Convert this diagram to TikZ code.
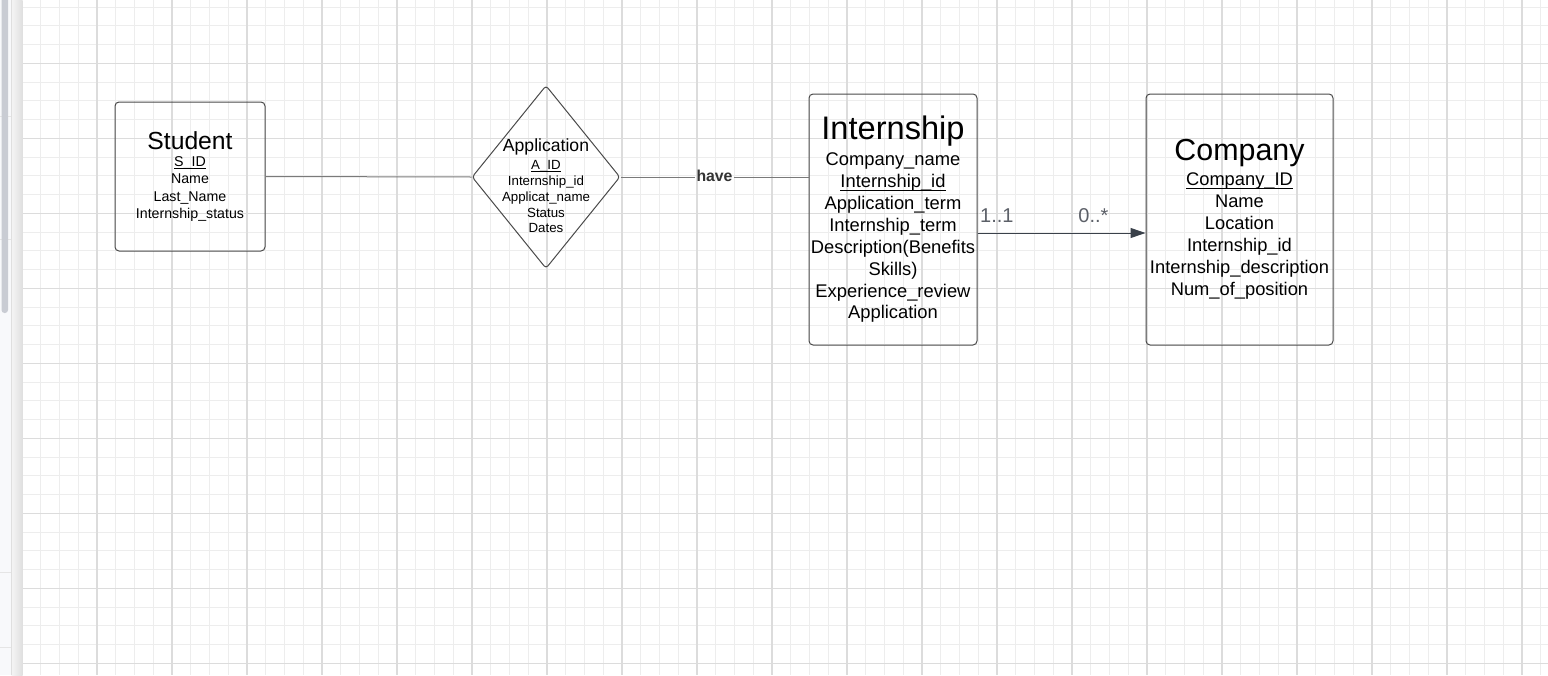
\documentclass[tikz,border=0pt]{standalone}
\usepackage{fontspec}
\setmainfont{Liberation Sans}
\usetikzlibrary{shapes.geometric,arrows.meta}

\definecolor{gridmajor}{HTML}{DCDCDC}
\definecolor{gridminor}{HTML}{EDEDED}
\definecolor{boxline}{HTML}{4A4A4A}
\definecolor{linkline}{HTML}{7A7A7A}
\definecolor{arrowline}{HTML}{3A414A}
\definecolor{multtext}{HTML}{5C6068}
\definecolor{sidebar}{HTML}{F8F9FB}
\definecolor{thumb}{HTML}{C9CCD3}

% underlined key attribute
\newcommand{\pkey}[1]{\sbox0{#1}\rlap{\rule[-0.19em]{\wd0}{0.065em}}\usebox0}

\begin{document}
\begin{tikzpicture}[x=1pt, y=-1pt,
    entbox/.style={draw=boxline, line width=1pt, rounded corners=4pt, align=center, inner sep=0pt, text=black},
    relbox/.style={diamond, draw=boxline, line width=1pt, rounded corners=3pt, inner sep=0pt},
    link/.style={linkline, line width=1pt}]

    \def\W{1548};
    \def\H{675};
    \useasboundingbox (0,0) rectangle (\W,\H);
    \fill[white] (0,0) rectangle (\W,\H);

% grid
    \foreach \i in {1,...,81}
        \draw[gridminor, line width=0.9pt] (21.7 + 18.75*\i, 0) -- (21.7 + 18.75*\i, \H);
    \foreach \j in {0,...,35}
        \draw[gridminor, line width=0.9pt] (22.7, 7.05 + 18.75*\j) -- (\W, 7.05 + 18.75*\j);
    \foreach \k in {1,...,20}
        \draw[gridmajor, line width=1.6pt] (21.7 + 75*\k, 0) -- (21.7 + 75*\k, \H);
    \foreach \k in {0,...,8}
        \draw[gridmajor, line width=1.6pt] (22.7, 63.3 + 75*\k) -- (\W, 63.3 + 75*\k);

% side bar
    \fill[sidebar] (0,0) rectangle (11.3,\H);
    \draw[gray!20] (0,116) -- (11.3,116);
    \draw[gray!20] (0,239) -- (11.3,239);
    \draw[gray!20] (0,572) -- (11.3,572);
    \draw[gray!20] (0,647) -- (11.3,647);
    \fill[thumb, rounded corners=3pt] (1.5,-5) rectangle (8,313);
    \shade[left color=gray!8, right color=gray!25] (11.3,0) rectangle (22.7,\H);
    \draw[gray!25] (11.3,0) -- (11.3,\H);

    \node[entbox, minimum width=150pt, minimum height=149pt, font=\fontsize{14.2}{17.3}\selectfont] (student) at (190,176.5)
        {{\fontsize{24.7}{17.3}\selectfont Student}\\ \pkey{S\_ID}\\ Name\\ Last\_Name\\ Internship\_status};

    \node[relbox, minimum width=148pt, minimum height=183pt] (app) at (546,177) {};
    \node[align=center, inner sep=0pt, font=\fontsize{13.3}{15.8}\selectfont] (apptext) at (546,186)
        {{\fontsize{17.6}{15.8}\selectfont Application}\\[2pt] \pkey{A\_ID}\\ Internship\_id\\ Applicat\_name\\ Status\\ Dates};

    \node[entbox, minimum width=168pt, minimum height=251pt, font=\fontsize{18.35}{21.9}\selectfont] (intern) at (893,219.5)
        {{\fontsize{32.6}{21.9}\selectfont Internship}\\[3.8pt] Company\_name\\ \pkey{Internship\_id}\\ Application\_term\\ Internship\_term\\ Description(Benefits\\ Skills)\\ Experience\_review\\ Application};

    \node[entbox, minimum width=187pt, minimum height=251pt, font=\fontsize{18.3}{22}\selectfont] (company) at (1239.5,219.5)
        {{\fontsize{30.4}{22}\selectfont Company}\\[2.7pt] \pkey{Company\_ID}\\ Name\\ Location\\ Internship\_id\\ Internship\_description\\ Num\_of\_position};

    \node[font=\bfseries\fontsize{15.8}{18}\selectfont, text=black!80, inner sep=1pt] (have) at (714.5,176) {have};

    \draw[link] (student.east) -- (app.west);
    \draw[link] (app.east) -- (have.west |- app.east);
    \draw[link] (have.east |- app.east) -- (intern.west |- app.east);

% one-to-many
    \draw[arrowline, line width=1pt, -{Triangle[length=15pt, width=10pt]}] ([yshift=-13.5pt]intern.east) -- ([yshift=-13.5pt]company.west)
        node[pos=0.115, above=10pt, inner sep=0pt, text=multtext, font=\fontsize{20}{24}\selectfont] (multa) {1..1}
        node[pos=0.69, above=10pt, inner sep=0pt, text=multtext, font=\fontsize{20}{24}\selectfont] (multb) {0..*};

\end{tikzpicture}
\end{document}
